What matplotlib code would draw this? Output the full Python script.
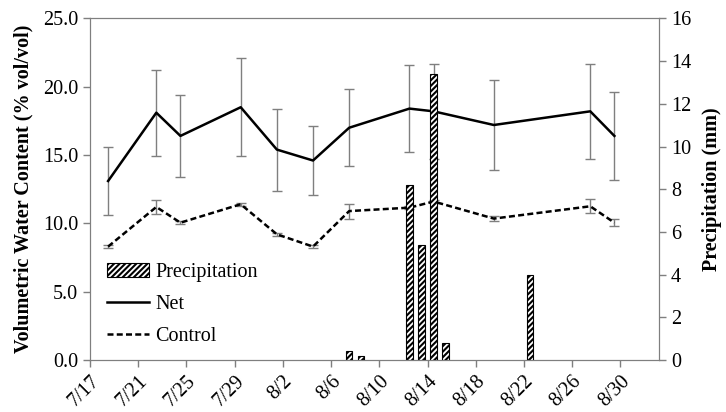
import numpy as np
import pandas as pd
import matplotlib
matplotlib.use('Agg')
import matplotlib.pyplot as plt
from matplotlib.patches import Patch
from matplotlib.lines import Line2D

plt.rcParams['font.family'] = ['Liberation Serif', 'DejaVu Serif']
plt.rcParams['hatch.linewidth'] = 1.5

# sampling dates and soil moisture (% vol/vol)
dates = ['7/18', '7/22', '7/24', '7/29', '8/1', '8/4', '8/7',
         '8/12', '8/14', '8/19', '8/27', '8/29']
net = [13.1, 18.1, 16.4, 18.5, 15.4, 14.6, 17.0, 18.4, 18.2, 17.2, 18.2, 16.4]
net_err = [2.5, 3.15, 3.0, 3.6, 3.0, 2.55, 2.8, 3.2, 3.5, 3.3, 3.5, 3.2]
control = [8.3, 11.2, 10.05, 11.4, 9.2, 8.3, 10.9, 11.15, 11.6, 10.35, 11.25, 10.05]
control_err = [0.12, 0.5, 0.12, 0.12, 0.1, 0.12, 0.55, 0.1, 0.1, 0.2, 0.5, 0.25]

# rainfall (mm)
rain_dates = ['8/7', '8/8', '8/12', '8/13', '8/14', '8/15', '8/22']
rain = [0.42, 0.2, 8.2, 5.4, 13.4, 0.8, 4.0]

tick_labels = ['7/17', '7/21', '7/25', '7/29', '8/2', '8/6', '8/10',
               '8/14', '8/18', '8/22', '8/26', '8/30']

start = pd.Timestamp('2000-07-17')


def day_of(labels):
    d = pd.to_datetime(['2000/' + s for s in labels], format='%Y/%m/%d')
    return np.array((d - start).days, dtype=float)


x = day_of(dates) + 0.5       # points sit in the middle of each day
xr = day_of(rain_dates) + 0.5
xt = day_of(tick_labels)

gray = '#7f7f7f'
fs = 14.5

fig = plt.figure(figsize=(7.26, 4.12), dpi=100)
ax = fig.add_axes([0.124, 0.1262, 0.7837, 0.8291])

ax.errorbar(x, net, yerr=net_err, color='black', lw=1.8, ecolor=gray,
            elinewidth=1, capsize=3.5, capthick=1)
ax.errorbar(x, control, yerr=control_err, color='black', lw=1.8, ls=(0, (2.4, 1.3)),
            ecolor=gray, elinewidth=1, capsize=3.5, capthick=1)

ax.set_xlim(0, 47.2)
ax.set_ylim(0, 25)
ax.set_xticks(xt)
ax.set_xticklabels(tick_labels, rotation=45, ha='right', va='top',
                   rotation_mode='anchor', fontsize=fs)
ax.set_yticks(np.arange(0, 26, 5))
ax.set_yticklabels(['%.1f' % v for v in np.arange(0, 26, 5)], fontsize=fs)
ax.set_ylabel('Volumetric Water Content (% vol/vol)', fontsize=fs,
              fontweight='bold', labelpad=7)

ax2 = ax.twinx()
ax2.bar(xr, rain, width=0.52, color='white', edgecolor='black',
        hatch='//////', linewidth=0.8)
ax2.set_ylim(0, 16)
ax2.set_yticks(np.arange(0, 17, 2))
ax2.tick_params(axis='y', labelsize=fs)
ax2.set_ylabel('Precipitation (mm)', fontsize=fs, fontweight='bold',
               rotation=90, labelpad=8)

for a in (ax, ax2):
    for s in a.spines.values():
        s.set_color(gray)
    a.tick_params(direction='out', length=5, width=1, color=gray)

handles = [Patch(facecolor='white', edgecolor='black', hatch='//////', linewidth=0.8),
           Line2D([], [], color='black', lw=1.8),
           Line2D([], [], color='black', lw=1.8, ls=(0, (2.4, 1.3)))]
ax2.legend(handles, ['Precipitation', 'Net', 'Control'], loc='upper left',
           bbox_to_anchor=(0.03, 0.283), frameon=False, fontsize=fs,
           handlelength=2.1, handletextpad=0.3, labelspacing=0.64,
           borderpad=0, borderaxespad=0)

fig.savefig('out.png', dpi=100)
